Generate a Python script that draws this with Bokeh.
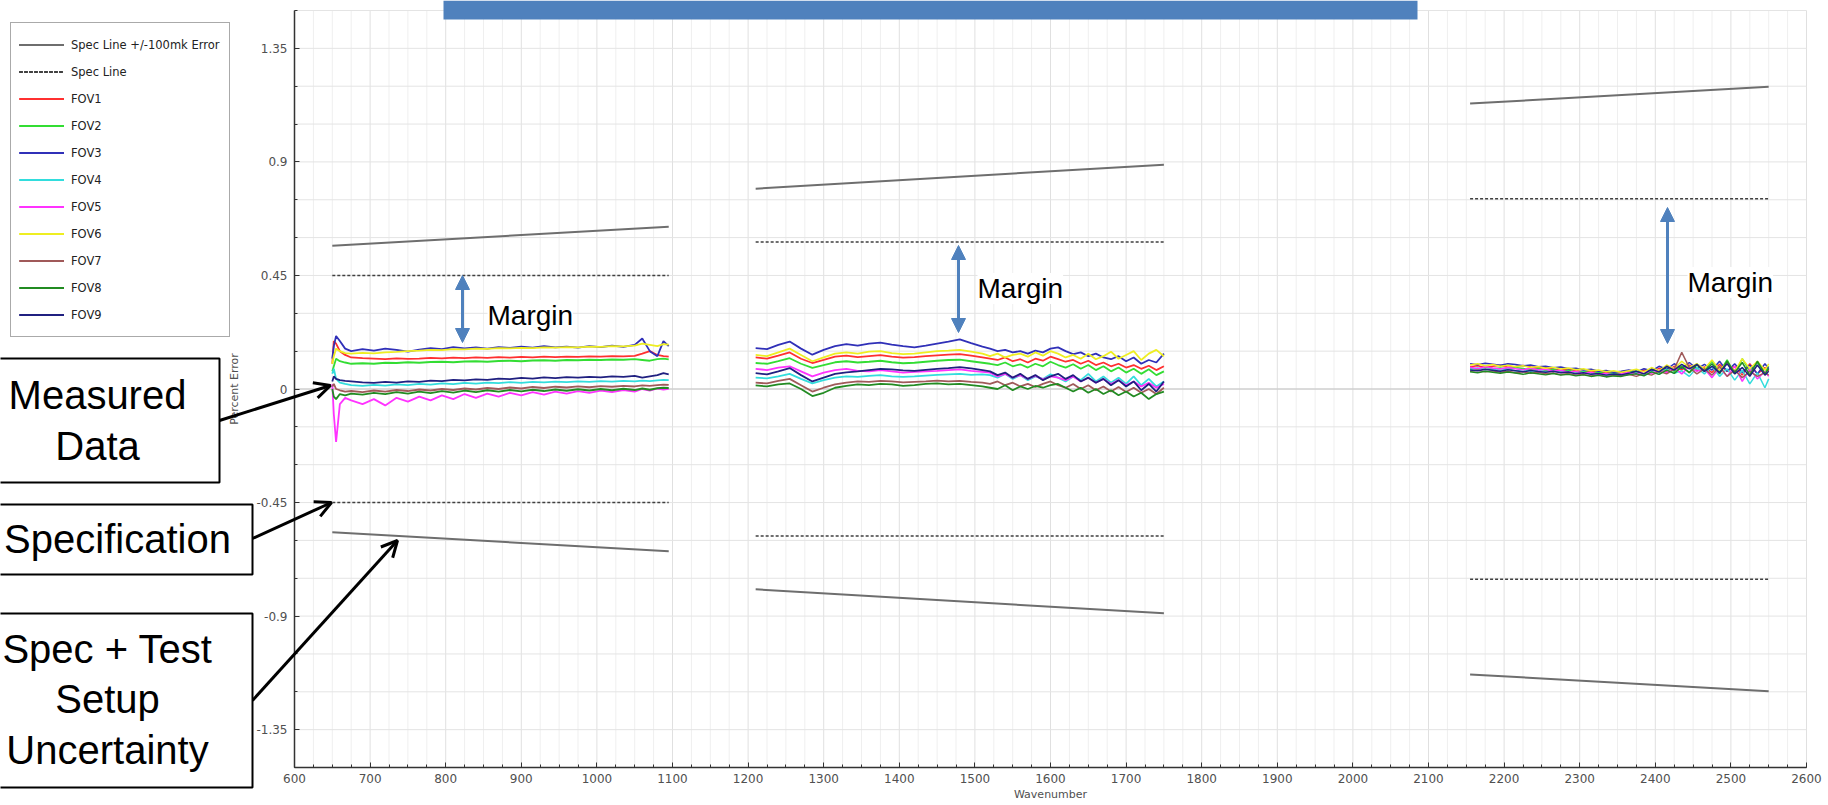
from bokeh.plotting import figure
from bokeh.models import (Range1d, FixedTicker, Legend, LegendItem, Label, Arrow,
                          OpenHead, NormalHead, BoxAnnotation)
from bokeh.embed import file_html
from bokeh.resources import INLINE
import numpy as np

# ---------------- data ----------------
series_names = ["FOV1", "FOV2", "FOV3", "FOV4", "FOV5", "FOV6", "FOV7", "FOV8", "FOV9"]
series_colors = ["#ff3030", "#33dd33", "#3030b8", "#33dddd", "#ff33ff",
                 "#eeee22", "#a05a5a", "#228b22", "#202080"]

spec_x = [[650, 1095], [1210, 1750], [2155, 2550]]
spec_hi = [[0.45, 0.45], [0.583, 0.583], [0.754, 0.754]]
spec_lo = [[-0.45, -0.45], [-0.583, -0.583], [-0.754, -0.754]]
specerr_hi = [[0.568, 0.643], [0.794, 0.889], [1.131, 1.198]]
specerr_lo = [[-0.568, -0.643], [-0.794, -0.889], [-1.131, -1.198]]

x_lw = [650, 652, 655, 660, 667, 675, 690, 705, 720, 735, 750, 765, 780, 795, 810, 825, 840, 855,
        870, 885, 900, 915, 930, 945, 960, 975, 990, 1005, 1020, 1035, 1050, 1060, 1070, 1080, 1088, 1095]
lw = {
 "FOV1": [0.10, 0.19, 0.18, 0.15, 0.135, 0.125, 0.122, 0.12, 0.118, 0.121, 0.119, 0.12, 0.123, 0.121, 0.124, 0.122, 0.125, 0.123, 0.126, 0.124, 0.127, 0.125, 0.128, 0.126, 0.128, 0.127, 0.129, 0.128, 0.13, 0.129, 0.131, 0.14, 0.15, 0.135, 0.13, 0.128],
 "FOV2": [0.07, 0.09, 0.12, 0.11, 0.105, 0.1, 0.102, 0.1, 0.104, 0.103, 0.106, 0.104, 0.107, 0.108, 0.106, 0.109, 0.11, 0.108, 0.111, 0.112, 0.11, 0.113, 0.114, 0.112, 0.115, 0.114, 0.116, 0.115, 0.117, 0.116, 0.118, 0.115, 0.112, 0.118, 0.12, 0.117],
 "FOV3": [0.12, 0.17, 0.21, 0.19, 0.16, 0.15, 0.158, 0.152, 0.16, 0.155, 0.148, 0.156, 0.162, 0.158, 0.166, 0.161, 0.165, 0.16, 0.166, 0.163, 0.168, 0.164, 0.17, 0.165, 0.168, 0.164, 0.17, 0.166, 0.172, 0.167, 0.175, 0.2, 0.15, 0.13, 0.19, 0.17],
 "FOV4": [0.06, 0.08, 0.04, 0.025, 0.02, 0.015, 0.012, 0.016, 0.013, 0.018, 0.015, 0.02, 0.017, 0.022, 0.019, 0.024, 0.021, 0.025, 0.023, 0.027, 0.024, 0.028, 0.026, 0.029, 0.027, 0.03, 0.028, 0.031, 0.029, 0.032, 0.03, 0.033, 0.031, 0.034, 0.036, 0.035],
 "FOV5": [0.02, -0.1, -0.21, -0.06, -0.035, -0.045, -0.06, -0.04, -0.065, -0.035, -0.05, -0.03, -0.045, -0.025, -0.04, -0.02, -0.035, -0.018, -0.03, -0.015, -0.025, -0.012, -0.022, -0.01, -0.018, -0.008, -0.015, -0.006, -0.012, -0.004, -0.01, 0.0, -0.006, 0.002, -0.002, 0.001],
 "FOV6": [0.1, 0.13, 0.16, 0.15, 0.142, 0.14, 0.143, 0.141, 0.145, 0.147, 0.15, 0.152, 0.155, 0.154, 0.158, 0.157, 0.16, 0.159, 0.162, 0.161, 0.163, 0.162, 0.165, 0.164, 0.166, 0.165, 0.168, 0.167, 0.17, 0.169, 0.172, 0.18, 0.175, 0.17, 0.178, 0.176],
 "FOV7": [0.01, 0.02, 0.0, -0.005, -0.01, -0.008, -0.012, -0.006, -0.01, -0.004, -0.008, -0.002, -0.006, 0.0, -0.004, 0.002, -0.002, 0.004, 0.0, 0.006, 0.002, 0.008, 0.004, 0.009, 0.006, 0.01, 0.007, 0.011, 0.009, 0.012, 0.01, 0.014, 0.012, 0.015, 0.017, 0.016],
 "FOV8": [0.0, -0.03, -0.04, -0.02, -0.025, -0.018, -0.022, -0.015, -0.02, -0.012, -0.018, -0.01, -0.016, -0.008, -0.014, -0.006, -0.012, -0.005, -0.01, -0.004, -0.009, -0.003, -0.008, -0.002, -0.007, -0.001, -0.006, 0.0, -0.005, 0.001, -0.004, 0.002, -0.003, 0.003, 0.005, 0.004],
 "FOV9": [0.03, 0.05, 0.04, 0.035, 0.032, 0.03, 0.026, 0.024, 0.028, 0.025, 0.03, 0.028, 0.033, 0.031, 0.036, 0.034, 0.038, 0.036, 0.041, 0.039, 0.044, 0.041, 0.046, 0.043, 0.047, 0.045, 0.048, 0.046, 0.05, 0.048, 0.052, 0.045, 0.05, 0.055, 0.063, 0.058],
}

x_mw = [1210, 1225, 1240, 1255, 1270, 1285, 1300, 1315, 1330, 1345, 1360, 1375, 1390, 1405, 1420, 1435,
        1450, 1465, 1480, 1495, 1510, 1520, 1530, 1540, 1550, 1560, 1570, 1580, 1590, 1600, 1610, 1620,
        1630, 1640, 1650, 1660, 1670, 1680, 1690, 1700, 1710, 1720, 1730, 1740, 1750]
mw = {
 "FOV1": [0.125, 0.12, 0.132, 0.145, 0.12, 0.103, 0.115, 0.128, 0.132, 0.126, 0.13, 0.134, 0.128, 0.124, 0.126, 0.13, 0.133, 0.136, 0.138, 0.132, 0.125,
          0.12, 0.115, 0.125, 0.11, 0.118, 0.105, 0.12, 0.112, 0.128, 0.118, 0.108, 0.115, 0.1, 0.112, 0.095, 0.105, 0.09, 0.1, 0.085, 0.095, 0.08, 0.092, 0.075, 0.09],
 "FOV2": [0.103, 0.1, 0.11, 0.122, 0.1, 0.084, 0.095, 0.106, 0.11, 0.105, 0.108, 0.112, 0.106, 0.102, 0.104, 0.108, 0.112, 0.115, 0.116, 0.11, 0.104,
          0.1, 0.095, 0.105, 0.09, 0.098, 0.085, 0.1, 0.09, 0.108, 0.095, 0.085, 0.098, 0.08, 0.095, 0.075, 0.09, 0.07, 0.085, 0.065, 0.08, 0.06, 0.078, 0.055, 0.07],
 "FOV3": [0.162, 0.158, 0.175, 0.188, 0.16, 0.136, 0.155, 0.17, 0.178, 0.172, 0.18, 0.184, 0.176, 0.17, 0.165, 0.172, 0.18, 0.188, 0.197, 0.182, 0.168,
          0.16, 0.15, 0.155, 0.145, 0.15, 0.14, 0.152, 0.145, 0.16, 0.165, 0.15, 0.138, 0.145, 0.13, 0.14, 0.125, 0.118, 0.13, 0.11, 0.125, 0.1, 0.115, 0.105, 0.14],
 "FOV4": [0.045, 0.042, 0.05, 0.06, 0.04, 0.022, 0.035, 0.045, 0.05, 0.048, 0.052, 0.055, 0.05, 0.048, 0.05, 0.053, 0.056, 0.058, 0.06, 0.056, 0.058,
          0.055, 0.045, 0.06, 0.04, 0.055, 0.035, 0.05, 0.04, 0.058, 0.045, 0.03, 0.05, 0.035, 0.06, 0.03, 0.05, 0.025, 0.045, 0.02, 0.05, 0.015, 0.04, 0.01, 0.03],
 "FOV5": [0.08, 0.075, 0.085, 0.09, 0.07, 0.05, 0.065, 0.075, 0.08, 0.072, 0.07, 0.075, 0.07, 0.065, 0.068, 0.07, 0.072, 0.075, 0.078, 0.072, 0.068,
          0.065, 0.05, 0.06, 0.045, 0.055, 0.04, 0.052, 0.038, 0.05, 0.045, 0.035, 0.05, 0.03, 0.045, 0.025, 0.04, 0.02, 0.035, 0.015, 0.03, 0.01, 0.025, 0.005, 0.02],
 "FOV6": [0.135, 0.13, 0.145, 0.16, 0.135, 0.11, 0.125, 0.14, 0.145, 0.14, 0.148, 0.15, 0.142, 0.138, 0.14, 0.145, 0.15, 0.152, 0.155, 0.148, 0.14,
          0.13, 0.14, 0.125, 0.135, 0.14, 0.128, 0.145, 0.132, 0.15, 0.14, 0.125, 0.135, 0.12, 0.14, 0.118, 0.13, 0.148, 0.12, 0.135, 0.15, 0.115, 0.14, 0.155, 0.13],
 "FOV7": [0.025, 0.022, 0.032, 0.04, 0.015, -0.01, 0.005, 0.018, 0.025, 0.03, 0.028, 0.032, 0.03, 0.026, 0.028, 0.03, 0.033, 0.03, 0.032, 0.028, 0.025,
          0.02, 0.03, 0.015, 0.025, 0.01, 0.02, 0.008, 0.02, 0.03, 0.015, 0.005, 0.02, 0.0, 0.015, -0.005, 0.01, -0.01, 0.008, -0.012, 0.005, -0.015, 0.0, -0.02, 0.005],
 "FOV8": [0.014, 0.01, 0.018, 0.022, 0.0, -0.028, -0.015, 0.005, 0.012, 0.018, 0.015, 0.02, 0.018, 0.012, 0.015, 0.02, 0.022, 0.018, 0.02, 0.015, 0.01,
          0.005, 0.0, 0.015, -0.005, 0.01, 0.0, 0.012, 0.005, 0.015, 0.02, 0.005, -0.01, 0.005, -0.015, 0.0, -0.02, -0.005, -0.025, -0.01, -0.03, -0.015, -0.04, -0.02, -0.01],
 "FOV9": [0.063, 0.058, 0.07, 0.083, 0.055, 0.03, 0.045, 0.06, 0.066, 0.07, 0.075, 0.08, 0.078, 0.074, 0.072, 0.076, 0.08, 0.083, 0.087, 0.082, 0.075,
          0.07, 0.055, 0.065, 0.045, 0.06, 0.04, 0.055, 0.035, 0.05, 0.06, 0.04, 0.055, 0.03, 0.045, 0.025, 0.04, 0.015, 0.035, 0.01, 0.03, -0.005, 0.02, -0.01, 0.03],
}

x_sw = [2155, 2165, 2175, 2185, 2195, 2205, 2215, 2225, 2235, 2245, 2255, 2265, 2275, 2285, 2295, 2305, 2315,
        2325, 2335, 2345, 2355, 2365, 2375, 2385, 2395, 2405, 2415, 2425, 2435, 2445, 2455, 2465, 2475, 2485,
        2495, 2505, 2515, 2525, 2535, 2545, 2550]
sw = {
 "FOV1": [0.088, 0.092, 0.085, 0.09, 0.094, 0.086, 0.089, 0.093, 0.087, 0.082, 0.085, 0.078, 0.074, 0.08, 0.072, 0.068, 0.071, 0.064, 0.066, 0.06, 0.064, 0.07, 0.062, 0.075, 0.068, 0.082, 0.07, 0.09, 0.076, 0.095, 0.072, 0.088, 0.065, 0.098, 0.07, 0.09, 0.055, 0.1, 0.06, 0.085, 0.07],
 "FOV2": [0.082, 0.078, 0.086, 0.08, 0.083, 0.079, 0.085, 0.081, 0.076, 0.08, 0.073, 0.077, 0.07, 0.074, 0.066, 0.07, 0.063, 0.067, 0.06, 0.064, 0.058, 0.066, 0.072, 0.06, 0.078, 0.066, 0.085, 0.07, 0.092, 0.065, 0.1, 0.075, 0.11, 0.068, 0.115, 0.06, 0.12, 0.07, 0.105, 0.065, 0.09],
 "FOV3": [0.1, 0.096, 0.102, 0.098, 0.094, 0.1, 0.097, 0.092, 0.095, 0.088, 0.09, 0.084, 0.087, 0.08, 0.082, 0.075, 0.078, 0.07, 0.073, 0.066, 0.07, 0.075, 0.068, 0.08, 0.072, 0.09, 0.078, 0.1, 0.082, 0.105, 0.08, 0.098, 0.075, 0.11, 0.07, 0.1, 0.065, 0.095, 0.06, 0.1, 0.08],
 "FOV4": [0.078, 0.083, 0.076, 0.08, 0.074, 0.079, 0.072, 0.077, 0.07, 0.074, 0.068, 0.072, 0.066, 0.069, 0.062, 0.066, 0.058, 0.062, 0.055, 0.06, 0.052, 0.058, 0.064, 0.055, 0.07, 0.058, 0.078, 0.062, 0.072, 0.05, 0.085, 0.06, 0.09, 0.05, 0.08, 0.035, 0.075, 0.02, 0.065, 0.005, 0.04],
 "FOV5": [0.086, 0.08, 0.088, 0.083, 0.079, 0.085, 0.08, 0.076, 0.082, 0.075, 0.078, 0.07, 0.074, 0.066, 0.07, 0.062, 0.066, 0.058, 0.062, 0.055, 0.06, 0.066, 0.058, 0.07, 0.062, 0.075, 0.065, 0.085, 0.06, 0.09, 0.07, 0.08, 0.045, 0.085, 0.05, 0.09, 0.03, 0.08, 0.04, 0.07, 0.05],
 "FOV6": [0.095, 0.1, 0.092, 0.097, 0.09, 0.094, 0.088, 0.092, 0.085, 0.089, 0.082, 0.086, 0.079, 0.083, 0.076, 0.08, 0.072, 0.075, 0.068, 0.072, 0.066, 0.072, 0.078, 0.068, 0.085, 0.072, 0.095, 0.08, 0.11, 0.085, 0.1, 0.08, 0.115, 0.075, 0.105, 0.07, 0.12, 0.08, 0.11, 0.075, 0.1],
 "FOV7": [0.07, 0.074, 0.068, 0.072, 0.066, 0.07, 0.064, 0.068, 0.062, 0.066, 0.06, 0.063, 0.057, 0.061, 0.055, 0.058, 0.052, 0.056, 0.05, 0.054, 0.052, 0.058, 0.05, 0.062, 0.055, 0.07, 0.06, 0.078, 0.145, 0.085, 0.06, 0.08, 0.055, 0.09, 0.05, 0.075, 0.045, 0.07, 0.05, 0.065, 0.055],
 "FOV8": [0.068, 0.064, 0.07, 0.066, 0.062, 0.067, 0.063, 0.058, 0.064, 0.06, 0.056, 0.061, 0.055, 0.058, 0.052, 0.056, 0.05, 0.054, 0.048, 0.052, 0.05, 0.056, 0.06, 0.052, 0.068, 0.058, 0.075, 0.062, 0.088, 0.065, 0.095, 0.07, 0.1, 0.06, 0.11, 0.065, 0.105, 0.055, 0.11, 0.06, 0.08],
 "FOV9": [0.075, 0.072, 0.078, 0.074, 0.07, 0.076, 0.072, 0.068, 0.073, 0.069, 0.066, 0.07, 0.064, 0.067, 0.06, 0.064, 0.058, 0.061, 0.055, 0.059, 0.056, 0.062, 0.07, 0.06, 0.078, 0.068, 0.09, 0.075, 0.098, 0.08, 0.098, 0.07, 0.09, 0.065, 0.1, 0.06, 0.085, 0.05, 0.095, 0.055, 0.07],
}

x_ticks = [600, 700, 800, 900, 1000, 1100, 1200, 1300, 1400, 1500, 1600, 1700, 1800, 1900,
           2000, 2100, 2200, 2300, 2400, 2500, 2600]
y_ticks = [-1.35, -0.9, -0.45, 0, 0.45, 0.9, 1.35]
y_tick_labels = ["-1.35", "-0.9", "-0.45", "0", "0.45", "0.9", "1.35"]

# ---------------- layout constants (canvas px) ----------------
W, H = 1828, 805
FL, FR, FT, FB = 294, 1806, 10, 767          # where the plotting area sits on the page
X0, X1, Y0, Y1 = 600, 2600, -1.5, 1.5         # axis extents


def dx(cx):
    return X0 + (cx - FL) * (X1 - X0) / (FR - FL)


def dy(cy):
    return Y1 - (cy - FT) * (Y1 - Y0) / (FB - FT)


# the frame covers the whole page so that the callouts outside the axes are not clipped
p = figure(width=W, height=H, output_backend="svg", toolbar_location=None,
           x_range=Range1d(dx(0), dx(W)), y_range=Range1d(dy(H), dy(0)),
           min_border=0, min_border_left=0, min_border_right=0,
           min_border_top=0, min_border_bottom=0)
p.outline_line_color = None
p.background_fill_color = "white"
p.border_fill_color = "white"
p.grid.visible = False

# axes pinned at the data origin of the plotting area
x_minor = [float(v) for v in np.arange(X0, X1 + 1, 25)]
y_minor = [round(float(v), 2) for v in np.arange(Y0, Y1 + 0.01, 0.15)]
p.xaxis.ticker = FixedTicker(ticks=x_ticks, minor_ticks=x_minor)
p.yaxis.ticker = FixedTicker(ticks=y_ticks, minor_ticks=y_minor)
p.yaxis.major_label_overrides = {t: l for t, l in zip(y_ticks, y_tick_labels)}
p.xaxis.fixed_location = Y0
p.yaxis.fixed_location = X0
p.xaxis.bounds = (X0, X1)
p.yaxis.bounds = (Y0, Y1)
for ax in (p.xaxis[0], p.yaxis[0]):
    ax.axis_line_color = "#333333"
    ax.axis_line_width = 1.5
    ax.major_tick_in = 5
    ax.major_tick_out = 0
    ax.minor_tick_in = 3
    ax.minor_tick_out = 0
    ax.major_tick_line_color = "#333333"
    ax.minor_tick_line_color = "#333333"
    ax.major_label_text_font = "DejaVu Sans"
    ax.major_label_text_font_size = "12px"
    ax.major_label_text_color = "#505050"
    ax.axis_label_text_font = "DejaVu Sans"
    ax.axis_label_text_font_size = "11px"
    ax.axis_label_text_font_style = "normal"
    ax.axis_label_text_color = "#505050"
p.xaxis.axis_label = "Wavenumber"
p.yaxis.axis_label = "Percent Error"
p.xaxis.major_label_standoff = 6
p.xaxis.axis_label_standoff = 2
p.yaxis.major_label_standoff = 7
p.yaxis.axis_label_standoff = 12

# grid lines (limited to the plotting area)
xg_minor = [v for v in x_minor if v not in x_ticks]
p.segment(x0=xg_minor, y0=[Y0] * len(xg_minor), x1=xg_minor, y1=[Y1] * len(xg_minor),
          line_color="#efefef", line_width=1)
p.segment(x0=x_ticks, y0=[Y0] * len(x_ticks), x1=x_ticks, y1=[Y1] * len(x_ticks),
          line_color="#e0e0e0", line_width=1)
p.segment(x0=[X0] * len(y_minor), y0=y_minor, x1=[X1] * len(y_minor), y1=y_minor,
          line_color="#e4e4e4", line_width=1)
p.line([X0, X1], [0, 0], line_color="#c4c4c4", line_width=1)

# spec lines
err_r, spec_r = [], []
for xs, hi, lo in zip(spec_x, specerr_hi, specerr_lo):
    err_r.append(p.line(xs, hi, line_color="#6e6e6e", line_width=2))
    err_r.append(p.line(xs, lo, line_color="#6e6e6e", line_width=2))
for xs, hi, lo in zip(spec_x, spec_hi, spec_lo):
    spec_r.append(p.line(xs, hi, line_color="#404040", line_width=1.5, line_dash="3 2"))
    spec_r.append(p.line(xs, lo, line_color="#404040", line_width=1.5, line_dash="3 2"))

# measured data
fov_r = {}
for name, col in zip(series_names, series_colors):
    rs = []
    for xs, d, wdt in ((x_lw, lw, 1.8), (x_mw, mw, 1.8), (x_sw, sw, 1.5)):
        rs.append(p.line(xs, d[name], line_color=col, line_width=wdt))
    fov_r[name] = rs

items = [LegendItem(label="Spec Line +/-100mk Error", renderers=err_r),
         LegendItem(label="Spec Line", renderers=spec_r)]
items += [LegendItem(label=n, renderers=fov_r[n]) for n in series_names]
legend = Legend(items=items, location=(10, H - 337), orientation="vertical",
                border_line_color="#555555", border_line_width=1.5,
                background_fill_color="white", background_fill_alpha=1,
                label_text_font="DejaVu Sans", label_text_font_size="11.5px",
                label_text_color="#222222", glyph_width=45, glyph_height=27,
                label_height=27, label_width=150, spacing=0, padding=8, margin=0,
                label_standoff=7)
p.add_layout(legend, "center")

# title bar (cropped slide header)
p.add_layout(BoxAnnotation(left=dx(443), right=dx(1417), top=dy(0), bottom=dy(19),
                           fill_color="#4f81bd", fill_alpha=1, line_color=None, level="overlay"))

# margin arrows + labels
BLUE = "#4f81bd"
for cx, cy0, cy1, lx, ly in [(462, 275, 342, 487, 315), (958, 245, 332, 977, 288), (1667, 207, 343, 1687, 282)]:
    p.add_layout(Arrow(start=NormalHead(size=14, fill_color=BLUE, line_color=BLUE),
                       end=NormalHead(size=14, fill_color=BLUE, line_color=BLUE),
                       x_start=dx(cx), y_start=dy(cy0), x_end=dx(cx), y_end=dy(cy1),
                       line_color=BLUE, line_width=3))
    p.add_layout(Label(x=dx(lx), y=dy(ly), text="Margin", text_font="Liberation Sans",
                       text_font_size="28px", text_color="black", text_baseline="middle",
                       text_align="left", background_fill_color="white", background_fill_alpha=1))

# callout boxes
for l, r, t, b in [(-30, 219, 358, 482), (-30, 252, 504, 574), (-30, 252, 613, 787)]:
    p.add_layout(BoxAnnotation(left=dx(l), right=dx(r), top=dy(t), bottom=dy(b),
                               fill_color="white", fill_alpha=1, line_color="black",
                               line_alpha=1, line_width=2, level="overlay"))
for tx, ty, txt in [(97, 420, "Measured\nData"), (117, 538, "Specification"),
                    (107, 699, "Spec + Test\nSetup\nUncertainty")]:
    p.add_layout(Label(x=dx(tx), y=dy(ty), text=txt, text_font="Liberation Sans",
                       text_font_size="40px", text_color="black", text_align="center",
                       text_baseline="middle", text_line_height=1.15, level="overlay"))

for x0, y0, x1, y1 in [(219, 420, 330, 385), (252, 538, 331, 502), (252, 700, 397, 540)]:
    p.add_layout(Arrow(end=OpenHead(size=16, line_color="black", line_width=3),
                       x_start=dx(x0), y_start=dy(y0), x_end=dx(x1), y_end=dy(y1),
                       line_color="black", line_width=3))

open("out.html", "w").write(file_html(p, INLINE))
